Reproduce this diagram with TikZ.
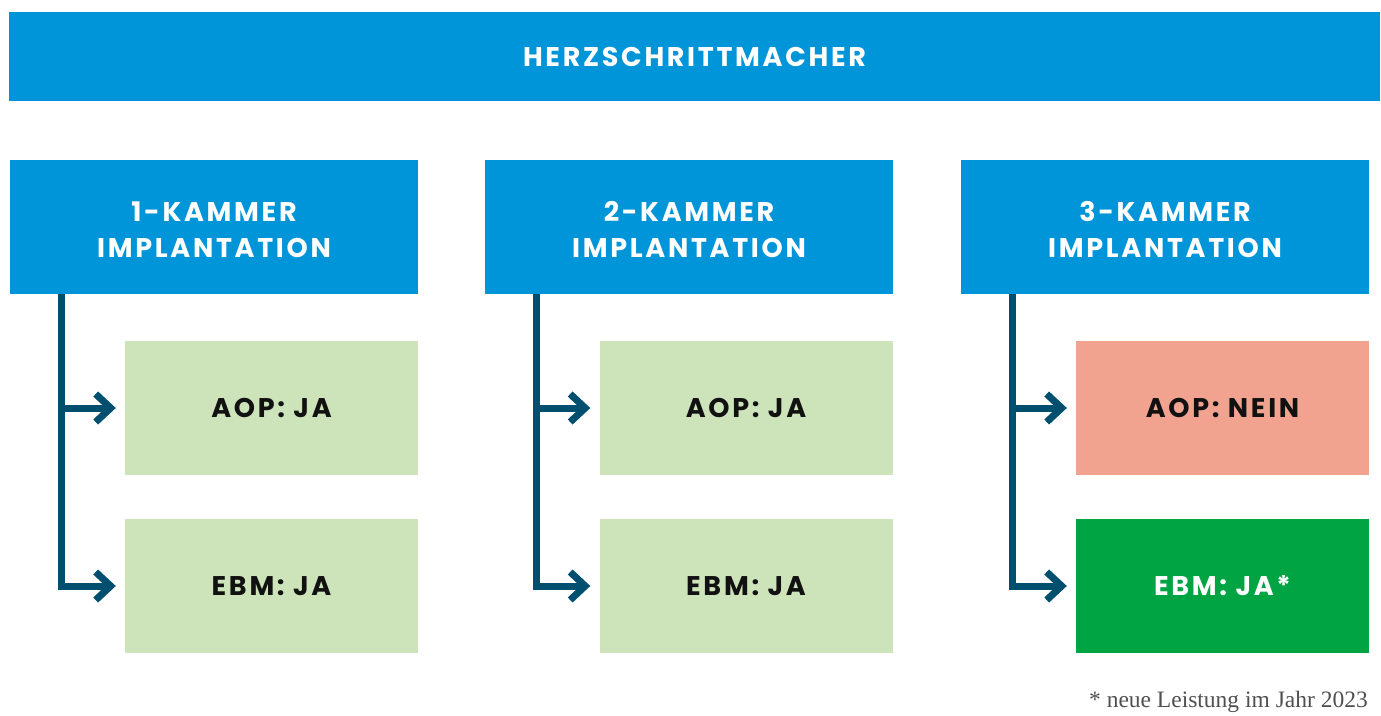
\documentclass[tikz,border=0pt]{standalone}
\usepackage{fontspec}
\setmainfont{Poppins}
\newfontfamily\notefont{Liberation Serif}
\usetikzlibrary{arrows.meta}
\definecolor{hzblue}{HTML}{0095D9}
\definecolor{hzline}{HTML}{004F6E}
\definecolor{hzlight}{HTML}{CDE3BA}
\definecolor{hzsalmon}{HTML}{F2A390}
\definecolor{hzgreen}{HTML}{00A443}
\definecolor{hzdark}{HTML}{111111}
\definecolor{hzgray}{HTML}{505050}
\tikzset{
  x=1pt, y=-1pt,
  lbl/.style={font=\fontsize{27}{36}\selectfont\bfseries\addfontfeatures{LetterSpace=10}, align=center, inner sep=0pt},
  topbox/.style={fill=hzblue, text=white, minimum width=1371pt, minimum height=89pt, lbl},
  catbox/.style={fill=hzblue, text=white, minimum width=408pt, minimum height=134pt, lbl},
  subbox/.style={minimum width=293pt, minimum height=134pt, lbl},
  okbox/.style={subbox, fill=hzlight, text=hzdark},
  nobox/.style={subbox, fill=hzsalmon, text=hzdark},
  newbox/.style={subbox, fill=hzgreen, text=white},
  trunk/.style={draw=hzline, line width=7pt, line join=miter},
  branch/.style={draw=hzline, line width=7pt, shorten >=9pt,
    -{Straight Barb[length=15pt, width=28pt, line width=7pt]}},
}
\begin{document}
\begin{tikzpicture}
\useasboundingbox (0,0) rectangle (1381,715);
\node[topbox] (top) at (694.5,56.5) {HERZSCHRITTMACHER};
\foreach \i/\cx in {1/214, 2/689, 3/1165}{
  \node[catbox, fill=hzblue] (k\i) at (\cx,227) {};
  \node[lbl, text=white] (kt\i) at (\cx,230) {\i-KAMMER\\IMPLANTATION};
}
\node[okbox] (a1) at (271.5,408) {AOP: JA};
\node[okbox] (e1) at (271.5,586) {EBM: JA};
\node[okbox] (a2) at (746,408) {AOP: JA};
\node[okbox] (e2) at (746,586) {EBM: JA};
\node[nobox] (a3) at (1222.5,408) {AOP: NEIN};
\node[newbox] (e3) at (1222.5,586) {EBM: JA*};
\foreach \i in {1,2,3}{
  \coordinate (t\i) at ([xshift=52pt]k\i.south west);
  \draw[trunk] (t\i) |- ([xshift=-60pt]e\i.west);
  \draw[branch] (t\i |- a\i.west) -- (a\i.west);
  \draw[branch] (t\i |- e\i.west) -- (e\i.west);
}
\node[anchor=base east, inner sep=0pt, text=hzgray, font=\notefont\fontsize{23.5}{26}\selectfont] (note) at (1368,707) {* neue Leistung im Jahr 2023};
\end{tikzpicture}
\end{document}
